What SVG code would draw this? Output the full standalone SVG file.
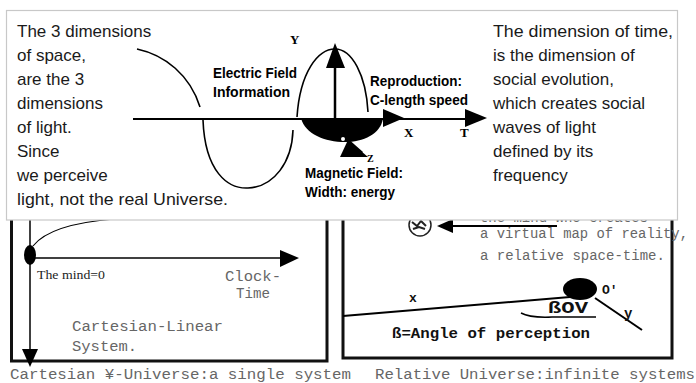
<svg xmlns="http://www.w3.org/2000/svg" width="696" height="383" viewBox="0 0 696 383">
<style>
.sans{font-family:"Liberation Sans",Arial,sans-serif;font-size:17px;fill:#1a1a1a}
.lbl{font-family:"Liberation Sans",Arial,sans-serif;font-weight:bold;font-size:14px;fill:#000}
.ser{font-family:"Liberation Serif","Times New Roman",serif;font-weight:bold;fill:#000}
.mono{font-family:"Liberation Mono","Courier New",monospace;fill:#666}
.monob{font-family:"Liberation Mono","Courier New",monospace;font-weight:bold;fill:#111}
.ln{stroke:#000;fill:none}
.box{fill:none;stroke:#111;stroke-width:3}
</style>
<rect width="696" height="383" fill="#fff"/>
<g id="left-box">
<rect class="box" x="11.5" y="195" width="315.5" height="166"/>
<line class="ln" x1="30" y1="200" x2="30" y2="352" stroke-width="1.5"/>
<polygon points="22,349 38,349 30,367" fill="#000"/>
<path class="ln" d="M33,246 Q50,224 115,219" stroke-width="1.2"/>
<ellipse cx="30" cy="255" rx="6" ry="10" fill="#000"/>
<line class="ln" x1="30" y1="258" x2="282" y2="258" stroke-width="1.5"/>
<polygon points="280,250 280,267 299,258" fill="#000"/>
<text x="37" y="279" font-family="Liberation Serif,serif" font-size="12" fill="#222" textLength="68" lengthAdjust="spacingAndGlyphs">The mind=0</text>
<text class="mono" x="225" y="281" font-size="15" textLength="56" lengthAdjust="spacingAndGlyphs">Clock-</text>
<text class="mono" x="236" y="298" font-size="14" textLength="34" lengthAdjust="spacingAndGlyphs">Time</text>
<text class="mono" x="72" y="331" font-size="15.5" textLength="151" lengthAdjust="spacingAndGlyphs">Cartesian-Linear</text>
<text class="mono" x="72" y="351" font-size="15.5">System.</text>
</g>
<g id="right-box">
<rect class="box" x="343" y="195" width="329" height="163"/>
<text class="mono" x="463" y="222" font-size="14" fill="#888" textLength="185" lengthAdjust="spacingAndGlyphs">- the mind who creates</text>
<line class="ln" x1="448" y1="226" x2="557" y2="226" stroke-width="2"/>
<polygon points="437,226 453,219 453,233" fill="#000"/>
<circle cx="420" cy="225" r="11" fill="#fff" stroke="#222" stroke-width="1.5"/>
<path d="M412,222 l5,4 l4,-5 l5,5 M413,229 l6,-2 l6,2" stroke="#222" stroke-width="2" fill="none"/>
<text class="mono" x="480" y="238" font-size="14" textLength="208" lengthAdjust="spacingAndGlyphs">a virtual map of reality,</text>
<text class="mono" x="480" y="260" font-size="14">a relative space-time.</text>
<line class="ln" x1="343" y1="316" x2="570" y2="297" stroke-width="2"/>
<ellipse cx="580" cy="289" rx="17" ry="11" fill="#000"/>
<line class="ln" x1="595" y1="298" x2="642" y2="330" stroke-width="2"/>
<text class="monob" x="409" y="302" font-size="13">x</text>
<text class="monob" x="602" y="294" font-size="13">O'</text>
<text class="monob" x="624" y="318" font-size="14">y</text>
<text class="monob" x="548" y="313" font-size="16" textLength="40" lengthAdjust="spacingAndGlyphs">ßOV</text>
<path class="ln" d="M521,313 Q530,318 552,317 L596,317" stroke-width="1.5"/>
<text class="monob" x="392" y="338" font-size="15" textLength="198" lengthAdjust="spacingAndGlyphs">ß=Angle of perception</text>
</g>
<g id="captions">
<text class="mono" x="10" y="379" font-size="15.5" fill="#777" textLength="341" lengthAdjust="spacingAndGlyphs">Cartesian ¥-Universe:a single system</text>
<text class="mono" x="375" y="379" font-size="15.5" fill="#777" textLength="320" lengthAdjust="spacingAndGlyphs">Relative Universe:infinite systems</text>
</g>
<g id="overlay">
<rect x="6.5" y="10.5" width="671" height="209.5" fill="#fff" stroke="#c8c8c8" stroke-width="1.2"/>
<text class="sans" x="17" y="37">The 3 dimensions</text>
<text class="sans" x="17" y="61">of space,</text>
<text class="sans" x="17" y="85">are the 3</text>
<text class="sans" x="17" y="109">dimensions</text>
<text class="sans" x="17" y="133">of light.</text>
<text class="sans" x="17" y="157">Since</text>
<text class="sans" x="17" y="181">we perceive</text>
<text class="sans" x="17" y="205" textLength="211" lengthAdjust="spacingAndGlyphs">light, not the real Universe.</text>
<text class="sans" x="493" y="37" textLength="180" lengthAdjust="spacingAndGlyphs">The dimension of time,</text>
<text class="sans" x="493" y="61">is the dimension of</text>
<text class="sans" x="493" y="85">social evolution,</text>
<text class="sans" x="493" y="109">which creates social</text>
<text class="sans" x="493" y="133">waves of light</text>
<text class="sans" x="493" y="157">defined by its</text>
<text class="sans" x="493" y="181">frequency</text>
</g>
<g id="wave">
<path class="ln" d="M137,49 C165,55 190,75 200,107" stroke-width="1.6"/>
<path class="ln" d="M203,120 C205,172 228,189 248,188 C274,187 292,162 293,130" stroke-width="1.6"/>
<path class="ln" d="M297,117 C300,72 318,49 335,49 C352,49 366,75 368,112" stroke-width="1.6"/>
<line class="ln" x1="133" y1="119" x2="470" y2="119" stroke-width="2"/>
<polygon points="404,118 383,109 383,127" fill="#000"/>
<polygon points="487,118 465,109 465,127" fill="#000"/>
<line class="ln" x1="335" y1="119" x2="335" y2="62" stroke-width="2.5"/>
<polygon points="335,43 326,68 345,68" fill="#000"/>
<path d="M301,118 L383,118 C381,134 363,142 345,142 C325,142 305,134 301,118 Z" fill="#000"/>
<line class="ln" x1="345" y1="138" x2="362" y2="153" stroke-width="3"/>
<polygon points="340,157 348,140 368,157" fill="#000"/>
<circle cx="343" cy="139" r="2" fill="#fff"/>
<text class="ser" x="290" y="44" font-size="13">Y</text>
<text class="ser" x="404" y="137" font-size="13">X</text>
<text class="ser" x="460" y="137" font-size="13">T</text>
<text class="ser" x="367" y="162" font-size="10">Z</text>
<text class="lbl" x="213" y="78" textLength="84" lengthAdjust="spacingAndGlyphs">Electric Field</text>
<text class="lbl" x="213" y="97" textLength="77" lengthAdjust="spacingAndGlyphs">Information</text>
<text class="lbl" x="370" y="86" textLength="92" lengthAdjust="spacingAndGlyphs">Reproduction:</text>
<text class="lbl" x="370" y="105" textLength="98" lengthAdjust="spacingAndGlyphs">C-length speed</text>
<text class="lbl" x="305" y="178" textLength="98" lengthAdjust="spacingAndGlyphs">Magnetic Field:</text>
<text class="lbl" x="305" y="197" textLength="90" lengthAdjust="spacingAndGlyphs">Width: energy</text>
</g>
</svg>
